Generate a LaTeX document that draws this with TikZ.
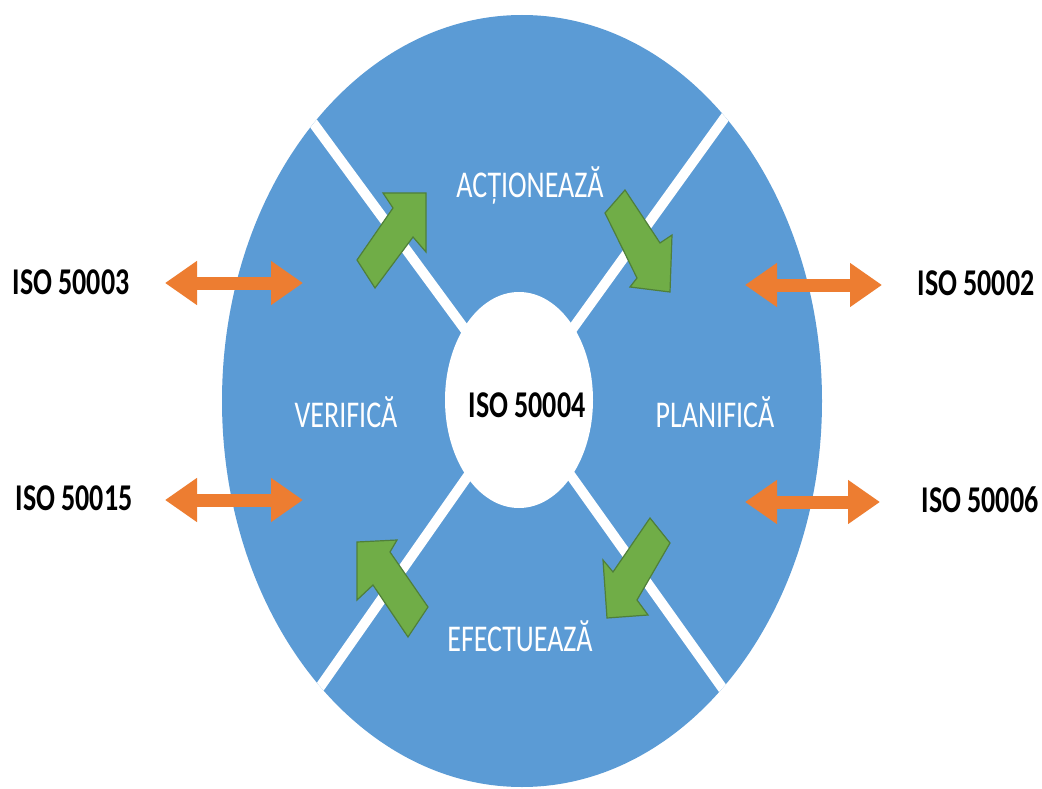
\documentclass[tikz,border=0pt]{standalone}
\usepackage{fontspec}
\setmainfont{Carlito}
\usepackage{graphicx}
\usetikzlibrary{shapes.geometric,arrows.meta}
\definecolor{eblue}{HTML}{5B9BD5}
\definecolor{ggreen}{HTML}{70AD47}
\definecolor{gdark}{HTML}{4F7F3A}
\definecolor{oorange}{HTML}{ED7D31}
\newcommand{\stretchtxt}[1]{\scalebox{1}[1.35]{#1}}
\begin{document}
\begin{tikzpicture}[x=1pt,y=-1pt,
  stage/.style={text=white, font=\fontsize{28}{30}\selectfont, anchor=base, inner sep=0},
  iso/.style={text=black, font=\fontsize{28}{30}\selectfont\bfseries, anchor=base, inner sep=0},
  oarrow/.style={draw=oorange, line width=13pt, {Triangle[width=42pt,length=32pt 0 0]}-{Triangle[width=42pt,length=32pt 0 0]}},
  garrow/.style={fill=ggreen, draw=gdark, line width=1.2pt, line join=miter},
  divider/.style={draw=white, line width=10pt}]
\useasboundingbox (0,0) rectangle (1042,789);
\fill[white] (0,0) rectangle (1042,789);
% main disc
\node[ellipse, fill=eblue, minimum width=600pt, minimum height=772pt, inner sep=0] (disc) at (522,401) {};
% dividers
\coordinate (ctr) at (519,403);
\coordinate (ul) at (272,67);
\coordinate (ur) at (762,66);
\coordinate (ll) at (278,747);
\coordinate (lr) at (763,745);
\begin{scope}
  \clip (522,401) ellipse [x radius=300, y radius=386];
  \draw[divider] (ul) -- (ctr);
  \draw[divider] (ur) -- (ctr);
  \draw[divider] (ll) -- (ctr);
  \draw[divider] (lr) -- (ctr);
\end{scope}
% centre
\node[ellipse, fill=white, minimum width=148pt, minimum height=216pt, inner sep=0] (hub) at (519,400) {};
\node[iso] (hubtxt) at (527,417) {\stretchtxt{ISO 50004}};
% green cycle arrows
\draw[garrow] (357,260) -- (393,208) -- (383,193) -- (426,193) -- (426,252) -- (413,237) -- (375,288) -- cycle;
\draw[garrow] (605,213) -- (625,190) -- (660,243) -- (672,235) -- (670,292) -- (630,287) -- (637,278) -- cycle;
\draw[garrow] (650,518) -- (670,543) -- (637,600) -- (648,615) -- (607,618) -- (603,560) -- (613,572) -- cycle;
\draw[garrow] (408,637) -- (428,607) -- (390,552) -- (397,540) -- (357,542) -- (357,600) -- (373,585) -- cycle;
% stage labels
\node[stage] (act) at (530,197) {\stretchtxt{ACȚIONEAZĂ}};
\node[stage] (ver) at (346,427) {\stretchtxt{VERIFICĂ}};
\node[stage] (pla) at (715,427) {\stretchtxt{PLANIFICĂ}};
\node[stage] (efe) at (520,651) {\stretchtxt{EFECTUEAZĂ}};
% side standards
\node[iso] (s3) at (71,294) {\stretchtxt{ISO 50003}};
\node[iso] (s15) at (74,510) {\stretchtxt{ISO 50015}};
\node[iso] (s2) at (976,295) {\stretchtxt{ISO 50002}};
\node[iso] (s6) at (980,512) {\stretchtxt{ISO 50006}};
\coordinate (a3l) at (165,283);
\coordinate (a3r) at (303,283);
\coordinate (a15l) at (165,500);
\coordinate (a15r) at (303,500);
\coordinate (a2l) at (745,285);
\coordinate (a2r) at (882,285);
\coordinate (a6l) at (745,502);
\coordinate (a6r) at (880,502);
\draw[oarrow] (a3l) -- (a3r);
\draw[oarrow] (a15l) -- (a15r);
\draw[oarrow] (a2l) -- (a2r);
\draw[oarrow] (a6l) -- (a6r);
\end{tikzpicture}
\end{document}
